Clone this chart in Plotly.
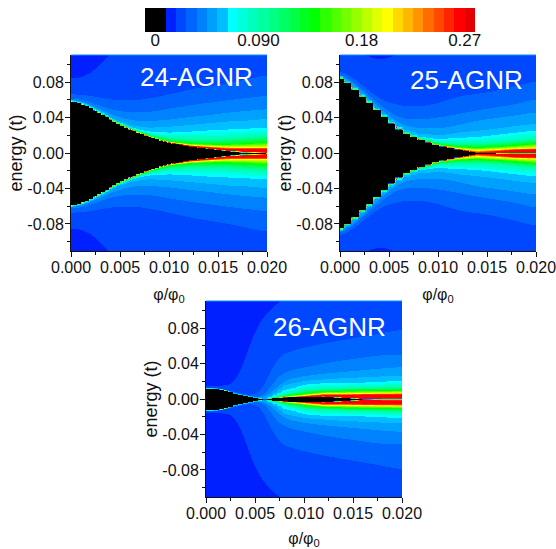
import numpy as np
import plotly.graph_objects as go

PHI = [0, .001, .002, .003, .004, .005, .006, .007, .008, .010, .012, .014, .016, .018, .020]
DOS_LEVELS = [.26, .2, .135, .09, .063, .054, .045, .036, .027, .018]
PANEL_NAMES = ["24-AGNR", "25-AGNR", "26-AGNR"]

BAND_COLORS = ["#0020ff", "#0048ff", "#0064ff", "#0082ff", "#00a0ff", "#00beff", "#00ffff", "#00ffdc",
               "#00ffbe", "#00ffa0", "#00ff82", "#00ff64", "#00ff46", "#00ff20", "#00ff00", "#2cff00",
               "#50ff00", "#74ff00", "#98ff00", "#bcff00", "#e0ff00", "#ffff00", "#ffd800", "#ffb800",
               "#ff9400", "#ff6c00", "#ff4800", "#ff2400", "#ff0000", "#e40000"]
BAND_EDGES = [-.009] + [round(.009 * k, 3) for k in range(1, 32)]
BAND_VALUES = [0] + [round(.009 * k + .0045, 4) for k in range(1, 31)]

# Energy where the DOS falls to each of DOS_LEVELS, one row per level, one column per PHI
AGNR24_LEVELS = [
    [.0586, .056, .051, .0447, .0383, .0323, .0272, .0224, .0187, .0124, .0088, .0068, .0052, .0052, .0053],
    [.0586, .056, .051, .0447, .0385, .0326, .0274, .0227, .0191, .0128, .0095, .0082, .007, .0068, .0068],
    [.059, .0564, .0515, .0452, .039, .0332, .028, .0234, .0198, .0135, .0115, .0105, .0105, .0115, .0128],
    [.0594, .0568, .052, .0458, .0396, .034, .029, .0246, .0218, .0175, .0165, .0165, .017, .0185, .02],
    [.06, .0574, .0527, .0466, .0405, .0349, .0302, .0265, .0248, .0235, .0245, .026, .027, .028, .029],
    [.0606, .058, .0535, .0475, .0415, .036, .0325, .030, .029, .030, .032, .034, .036, .037, .039],
    [.0612, .0588, .055, .0495, .0445, .0405, .0375, .0365, .0365, .038, .041, .043, .046, .048, .05],
    [.0625, .0605, .058, .0535, .0495, .0475, .0462, .046, .0466, .0504, .054, .057, .06, .0625, .065],
    [.067, .066, .065, .0625, .0605, .0595, .059, .060, .0616, .066, .071, .075, .0785, .083, .088],
    [.083, .084, .089, .099, .112, .125, .14, .15, .16, .18, .2, .2, .2, .2, .2],
]
AGNR24_GAP = [.0586, .056, .051, .0447, .0383, .0323, .027, .0222, .0184, .012, .0079, .0053, .0025, .0002, 0]
AGNR24_RIDGE = [.0586, .056, .051, .0447, .0383, .0323, .027, .0222, .0184, .012, .0079, .0056, .0032, .002, .0012]
AGNR24_CENTER = [.02, .02, .02, .02, .02, .02, .02, .02, .02, .02, .02, .02, .02, .02, .16]

AGNR25_LEVELS = [
    [.0842, .0774, .0661, .0571, .0458, .0361, .0272, .0205, .016, .0092, .0049, .001, .0025, .0042, .0047],
    [.0844, .0776, .0663, .0573, .046, .0363, .0273, .0207, .0163, .0094, .0055, .0034, .0045, .0055, .006],
    [.0847, .0779, .0666, .0576, .0463, .0366, .0276, .021, .0167, .0100, .0075, .0068, .0078, .0095, .0115],
    [.0852, .0784, .0671, .0581, .0468, .0371, .0282, .0218, .0178, .0125, .0115, .0115, .0125, .0145, .0165],
    [.0862, .0794, .0681, .0591, .0478, .0381, .0295, .0232, .0195, .0162, .0175, .0185, .021, .0235, .0259],
    [.0872, .0804, .0692, .0601, .049, .0394, .031, .0252, .0225, .0205, .0235, .0255, .028, .031, .0334],
    [.0885, .082, .0715, .0615, .051, .042, .034, .03, .0285, .028, .0315, .037, .040, .043, .0466],
    [.0905, .084, .0745, .065, .055, .047, .04, .0385, .0382, .0402, .0442, .0485, .052, .0555, .0616],
    [.0936, .0872, .079, .0695, .0616, .0567, .0541, .0526, .0522, .056, .0635, .0665, .070, .0755, .081],
    [.115, .115, .113, .107, .1037, .106, .112, .12, .13, .15, .2, .2, .2, .2, .2],
]
AGNR25_GAP = [.0842, .0774, .0661, .0571, .0458, .0361, .027, .0203, .0158, .009, .0045, .0008, 0, 0, 0]
AGNR25_RIDGE = [.0842, .0774, .0661, .0571, .0458, .0361, .027, .0203, .0158, .009, .0047, .0008, .0012, .001, .001]
AGNR25_CENTER = [.02, .02, .02, .02, .02, .02, .02, .02, .02, .02, .02, .03, .2, .12, .1]

AGNR26_LEVELS = [
    [.012, .0117, .0098, .006, .0038, .0015, 0, .0012, .0023, .0033, .005, .005, .0055, .0057, .0058],
    [.012, .0117, .0098, .006, .0038, .0015, 0, .0013, .0026, .0045, .0065, .0065, .0068, .007, .0072],
    [.0122, .0119, .01, .0062, .004, .0017, 0, .0016, .0034, .0065, .0088, .0095, .01, .0103, .0105],
    [.0124, .0121, .0102, .0064, .0042, .0019, .0001, .0028, .0058, .0105, .0118, .0125, .0132, .0136, .014],
    [.0126, .0123, .0104, .0066, .0044, .0021, .0002, .0045, .0105, .0165, .0185, .019, .019, .02, .021],
    [.0128, .0125, .0106, .0068, .0046, .0023, .0003, .007, .016, .021, .0225, .024, .025, .026, .027],
    [.013, .0127, .0108, .007, .0048, .0026, .0006, .012, .022, .0265, .029, .031, .033, .035, .0366],
    [.0132, .0129, .011, .0073, .005, .003, .001, .024, .031, .036, .0405, .044, .047, .05, .0505],
    [.0134, .0131, .0113, .0078, .0055, .0035, .012, .046, .052, .058, .0625, .0665, .07, .074, .078],
    [.0137, .0138, .014, .0147, .045, .079, .094, .105, .113, .14, .16, .18, .2, .22, .24],
]
AGNR26_GAP = [.012, .0117, .0098, .006, .0038, .0015, 0, .0012, .0022, .0027, .0027, .0018, 0, 0, 0]
AGNR26_RIDGE = [.012, .0117, .0098, .006, .0038, .0015, 0, .0012, .0022, .0027, .0035, .0022, .001, .0012, .0012]
AGNR26_CENTER = [.02, .02, .02, .02, .02, .02, .02, .02, .02, .02, .02, .02, .02, .1, .09]

COLORBAR_TICKS = [0, .09, .18, .27]
COLORBAR_LABELS = ["0", "0.090", "0.18", "0.27"]
X_TICKS = [0, .005, .01, .015, .02]
Y_TICKS = [-.08, -.04, 0, .04, .08]


def build_scale():
    lo, hi = -.009, .279
    n = lambda v: (v - lo) / (hi - lo)
    scale = [[0, "#000000"], [n(.009), "#000000"]]
    for i, c in enumerate(BAND_COLORS):
        scale += [[n(.009 * (i + 1)), c], [n(.009 * (i + 2)), c]]
    scale[-1][0] = 1
    return scale


def smooth(v, n):
    pad = np.concatenate([np.full(n, v[0]), v, np.full(n, v[-1])])
    return np.convolve(pad, np.ones(2 * n + 1) / (2 * n + 1), "same")[n:-n]


def build_field(levels, gap, ridge, center, step):
    phi = np.linspace(0, .02, 196)
    energy = np.linspace(-.1105, .1105, 197)
    q = np.where(phi < .012, np.round(phi / step) * step, phi)
    rows = np.array([smooth(smooth(np.interp(phi, PHI, r), 8), 5) if k >= 6
                     else smooth(np.interp(q, PHI, r), 1)
                     for k, r in enumerate(levels)])
    g = np.interp(q, PHI, gap)
    rd = np.interp(phi, PHI, ridge)
    ce = np.interp(phi, PHI, center)
    z = np.empty((energy.size, phi.size))
    fp = np.array([0, .27] + DOS_LEVELS + [.01])
    for j in range(phi.size):
        xp = np.concatenate([[g[j], rd[j]], rows[:, j], [.3]])
        xp = np.maximum.accumulate(xp + 1e-7 * np.arange(xp.size))
        f = fp.copy()
        f[0] = ce[j]
        z[:, j] = np.interp(np.abs(energy), xp, f)
        z[np.abs(energy) < g[j], j] = -.004
    return phi, energy, np.round(z, 4)


W, H = 556, 549
BOXES = [(71, 55), (340, 55), (206, 301)]
LABEL_POS = [(.638, .888), (.643, .872), (.628, .867)]
DATA = [(AGNR24_LEVELS, AGNR24_GAP, AGNR24_RIDGE, AGNR24_CENTER, .0004),
        (AGNR25_LEVELS, AGNR25_GAP, AGNR25_RIDGE, AGNR25_CENTER, .00075),
        (AGNR26_LEVELS, AGNR26_GAP, AGNR26_RIDGE, AGNR26_CENTER, .0005)]
FONT = "Liberation Sans, Arial, sans-serif"
TXT = "#111"
scale = build_scale()

fig = go.Figure()
layout = dict(width=W, height=H, margin=dict(l=0, r=0, t=0, b=0, autoexpand=False),
              paper_bgcolor="white", plot_bgcolor="white", showlegend=False,
              font=dict(family=FONT, size=16, color=TXT), annotations=[], shapes=[])

for i, ((x0, y0), d, name, (lx, ly)) in enumerate(zip(BOXES, DATA, PANEL_NAMES, LABEL_POS)):
    phi, energy, z = build_field(*d)
    sfx = "" if i == 0 else str(i + 1)
    fig.add_trace(go.Heatmap(x=phi, y=energy, z=z, colorscale=scale, zmin=-.009, zmax=.279,
                             xaxis="x" + sfx, yaxis="y" + sfx, showscale=False, hoverinfo="skip"))
    common = dict(ticks="outside", ticklen=5, tickwidth=1, tickcolor=TXT, showline=True,
                  linecolor=TXT, linewidth=1, showgrid=False, zeroline=False, ticklabeloverflow="allow",
                  tickfont=dict(size=16, family=FONT, color=TXT))
    layout["xaxis" + sfx] = dict(
        common, domain=[x0 / W, (x0 + 196) / W], range=[0, .02], anchor="y" + sfx,
        tickmode="array", tickvals=X_TICKS, ticktext=[f"{v:.3f}" for v in X_TICKS], ticklabelstandoff=-3,
        minor=dict(tickmode="array", tickvals=[.0025, .0075, .0125, .0175], ticks="outside", ticklen=3, tickcolor=TXT),
        title=dict(text="\u03c6/\u03c6<sub>0</sub>", standoff=13, font=dict(size=16, family=FONT, color=TXT)))
    layout["yaxis" + sfx] = dict(
        common, domain=[1 - (y0 + 196) / H, 1 - y0 / H], range=[-.1105, .1105], anchor="x" + sfx,
        tickmode="array", tickvals=Y_TICKS, ticktext=[f"{v:.2f}" for v in Y_TICKS], ticklabelstandoff=-2,
        minor=dict(tickmode="array", tickvals=[-.1, -.06, -.02, .02, .06, .1], ticks="outside", ticklen=3, tickcolor=TXT),
        title=dict(text="energy (t)", standoff=0, font=dict(size=18, family=FONT, color=TXT)))
    layout["annotations"].append(dict(
        text=name, x=lx, y=ly, xref=f"x{sfx} domain", yref=f"y{sfx} domain",
        xanchor="center", yanchor="middle", showarrow=False,
        font=dict(size=26, family=FONT, color="white")))
    layout["shapes"].append(dict(type="line", xref=f"x{sfx} domain", yref=f"y{sfx} domain",
                                 x0=0, x1=1, y0=1, y1=1, line=dict(color="#0a90ff", width=1)))

# colour key
fig.add_trace(go.Heatmap(x=BAND_EDGES, y=[0, 1], z=[BAND_VALUES], colorscale=scale, zmin=-.009, zmax=.279,
                         xaxis="x4", yaxis="y4", showscale=False, hoverinfo="skip"))
layout["xaxis4"] = dict(domain=[145 / W, 475 / W], range=[-.009, .279], anchor="y4", showgrid=False,
                        zeroline=False, showline=False, ticks="", tickmode="array", tickvals=COLORBAR_TICKS,
                        ticktext=COLORBAR_LABELS, ticklabelstandoff=-4,
                        tickfont=dict(size=17, family=FONT, color=TXT))
layout["yaxis4"] = dict(domain=[1 - 32 / H, 1 - 8 / H], range=[0, 1], anchor="x4", visible=False)

fig.update_layout(**layout)
fig.write_html("out.html", config=dict(displayModeBar=False), post_script="document.body.style.margin='0';")
